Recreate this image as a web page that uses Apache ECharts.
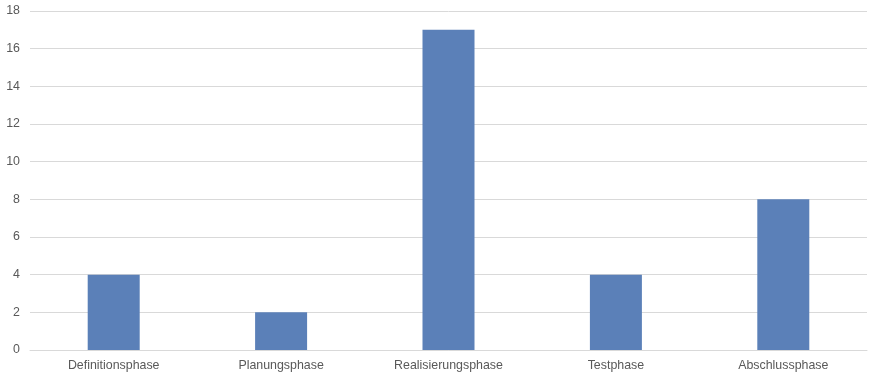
<!DOCTYPE html>
<html lang="de">
<head>
    <meta charset="UTF-8">
    <title>Phasen</title>
    <script src="https://cdn.jsdelivr.net/npm/echarts@6/dist/echarts.min.js"></script>
    <style>
        html, body { margin: 0; padding: 0; background: #fff; }
    </style>
</head>
<body>
    <div id="main" style="width: 878px;height: 377px"></div>
    <script>
        // Kategorien und Werte
        var phasen = ['Definitionsphase', 'Planungsphase', 'Realisierungsphase', 'Testphase', 'Abschlussphase'];
        var werte = [4, 2, 17, 4, 8];
        var yMin = 0, yMax = 18, yStep = 2;

        var mCharts = echarts.init(document.getElementById('main'));
        var option = {
            animation: false,
            grid: { left: 30, right: 11, top: 11, bottom: 27, containLabel: false },
            xAxis: {
                type: 'category',
                data: phasen,
                axisLine: { show: true, lineStyle: { color: '#d9d9d9' } },
                axisTick: { show: false },
                axisLabel: { color: '#595959', fontFamily: 'Liberation Sans, Arial', fontSize: 12.4, margin: 10 }
            },
            yAxis: {
                type: 'value',
                min: yMin, max: yMax, interval: yStep,
                axisLine: { show: false },
                axisTick: { show: false },
                axisLabel: { color: '#595959', fontFamily: 'Liberation Sans, Arial', fontSize: 12.4, margin: 10 },
                splitLine: { lineStyle: { color: '#d9d9d9' } }
            },
            series: [{
                type: 'bar',
                data: werte,
                barWidth: 52,
                itemStyle: { color: '#5b80b8' }
            }]
        };
        mCharts.setOption(option);
    </script>
</body>
</html>
